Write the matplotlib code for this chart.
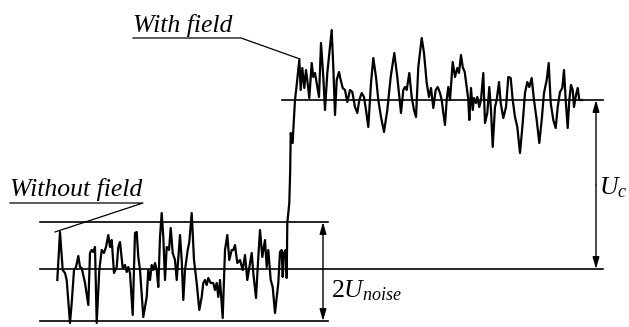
import matplotlib
matplotlib.use("Agg")
import matplotlib.pyplot as plt
import numpy as np

plt.rcParams['mathtext.fontset'] = 'custom'
plt.rcParams['mathtext.rm'] = 'Liberation Serif'
plt.rcParams['mathtext.it'] = 'Liberation Serif:italic'

# Signal trace (x: time position, y: signal level, in picture units, y grows downward)
t = [57.3, 60, 62.7, 65, 66.7, 70, 71.7, 74, 76, 78.3, 80, 81.7, 85, 88.3, 90, 91.7, 93.3, 95,
     96.7, 99.3, 101.7, 104, 106, 108.3, 110, 111.7, 114, 116.7, 118.3, 120, 122.7, 125, 126.7,
     128.3, 130, 132.7, 135, 136.7, 138.3, 140, 143.3, 146.7, 148.3, 150, 151.7, 153.3, 155,
     156.7, 158.3, 160, 161.7, 163.3, 165, 166.7, 169, 170.7, 172.7, 175, 176.7, 180, 181.7,
     183.3, 185, 187.7, 189.3, 191.7, 194, 196.7, 199.3, 201.7, 203.3, 205, 206.7, 208.3, 210.7,
     213.3, 215, 216.7, 218.3, 220, 222.7, 225, 227.3, 229.3, 231.7, 233.3, 235, 237.3, 240,
     242.7, 245, 247.3, 250, 251.7, 253.3, 256, 258.3, 260, 262.3, 265, 266.7, 268.3, 270.7,
     272.7, 275, 278.3, 280, 281.7, 282.7, 284, 285.7, 286.7, 287.3, 289.3, 290.2,
     290.7, 292.7, 293.3, 295, 296.7, 299.3, 300.7, 302.3, 304.3, 306, 307.3, 309.3, 311.7,
     313.3, 315, 316.7, 319, 321, 323.3, 325, 327.3, 329.3, 331.7, 333.3, 335, 336.7, 339,
     340.7, 342.7, 345, 347.3, 350, 352.3, 355, 357.3, 359.3, 361.7, 364, 366, 368.3, 371,
     373.3, 376, 378.3, 381, 384, 387.3, 390.7, 394.3, 397.3, 399.3, 401, 403.3, 405, 406.7,
     409.3, 411.7, 414, 416, 418.3, 421.7, 424, 426.7, 429, 431, 433.3, 435.7, 437.7, 440,
     441.7, 443.3, 445, 446.7, 448.3, 450, 452.7, 455, 457.3, 459, 461, 462.7, 464.7, 466.7,
     468.3, 469.3, 471, 472.7, 474, 476, 477.3, 479.3, 481, 483.3, 485, 487.3, 489.3, 491,
     492.7, 495, 496.7, 499, 500.7, 503.3, 506, 508.3, 510.7, 512.7, 515, 517.3, 520, 522.7,
     525, 527.3, 529.3, 531.7, 534, 536.7, 539.3, 541.7, 544, 546.7, 548.7, 550.7, 553.3,
     555.7, 557.7, 560, 562.3, 564, 565.7, 567.7, 569.3, 571, 572.7, 574, 576, 577.7, 579.3,
     581.7]
u = [280, 232, 270, 273, 280, 323, 303, 270, 267, 256, 267, 268, 283, 305, 253, 250, 252, 247,
     323, 270, 250, 253, 247, 235, 247, 240, 273, 267, 247, 242, 268, 265, 272,
     267, 273, 315, 233, 232, 257, 270, 317, 297, 270, 280, 265, 270, 263,
     270, 287, 237, 213, 237, 280, 247, 250, 228, 253, 260, 280, 235, 260,
     300, 270, 250, 242, 213, 260, 283, 310, 297, 283, 280, 285, 278, 283,
     283, 290, 283, 297, 280, 318, 250, 235, 260, 250, 250, 245, 263, 260,
     270, 255, 280, 263, 253, 273, 298, 257, 230, 257, 240, 267, 250, 280,
     287, 313, 283, 252, 250, 277, 253, 250, 278, 223, 203, 170,
     133, 143, 130, 100, 85, 60, 90, 68, 88, 70, 80, 98, 63,
     77, 73, 83, 97, 43, 77, 110, 73, 53, 30, 67, 115, 80, 72,
     80, 88, 90, 102, 90, 92, 107, 113, 100, 93, 97, 110, 127, 83,
     58, 77, 100, 117, 132, 110, 77, 53, 77, 97, 113, 90, 87, 90,
     73, 97, 110, 117, 67, 38, 53, 83, 97, 88, 108, 90, 87, 93,
     100, 113, 125, 100, 87, 100, 62, 77, 68, 73, 55, 67, 72, 87,
     100, 120, 88, 110, 98, 103, 97, 107, 100, 73, 123, 113, 87, 110,
     147, 107, 100, 82, 103, 118, 107, 77, 78, 100, 117, 127, 153, 123,
     93, 82, 87, 78, 100, 120, 143, 120, 93, 80, 63, 103, 120,
     128, 107, 92, 88, 70, 100, 128, 100, 85, 90, 107, 95, 88, 100,
     100]

# Reference levels
level_with = 100      # mean level with field
level_without = 269   # mean level without field
noise_top = 222
noise_bottom = 321

fig = plt.figure(figsize=(6.29, 3.27), dpi=100)
ax = fig.add_axes([0, 0, 1, 1])
ax.set_xlim(0, 629)
ax.set_ylim(327, 0)
ax.axis('off')

lc = 'black'
ax.plot(t, u, color=lc, lw=1.6, solid_joinstyle='round')

ax.plot([282, 603], [level_with, level_with], color=lc, lw=1.2)
ax.plot([40, 603], [level_without, level_without], color=lc, lw=1.2)
ax.plot([40, 328], [noise_top, noise_top], color=lc, lw=1.2)
ax.plot([40, 328], [noise_bottom, noise_bottom], color=lc, lw=1.2)

ap = dict(arrowstyle='<|-|>,head_length=0.7,head_width=0.2', color=lc, lw=1.0,
          shrinkA=0, shrinkB=0)
ax.annotate('', xy=(323, noise_top), xytext=(323, noise_bottom), arrowprops=ap)
ap2 = dict(arrowstyle='-|>,head_length=0.7,head_width=0.2', color=lc, lw=1.0,
           shrinkA=0, shrinkB=0)
ax.annotate('', xy=(596, level_with), xytext=(596, level_with + 85), arrowprops=ap2)
ax.annotate('', xy=(596, level_without), xytext=(596, level_with + 85), arrowprops=ap2)

fs = 18.5
ax.text(599, 194, r'$U_c$', fontsize=fs, ha='left', va='baseline')
ax.text(331, 297, r'$2U_{noise}$', fontsize=fs, ha='left', va='baseline')

ax.text(10, 196, 'Without field', fontsize=fs, family='Liberation Serif', style='italic',
        ha='left', va='baseline')
ax.plot([10, 143, 55], [203, 203, 232], color=lc, lw=0.9)
ax.text(133, 32, 'With field', fontsize=fs, family='Liberation Serif', style='italic',
        ha='left', va='baseline')
ax.plot([133, 241, 300], [38, 38, 59], color=lc, lw=0.9)

fig.savefig('out.png', dpi=100, facecolor='white')
